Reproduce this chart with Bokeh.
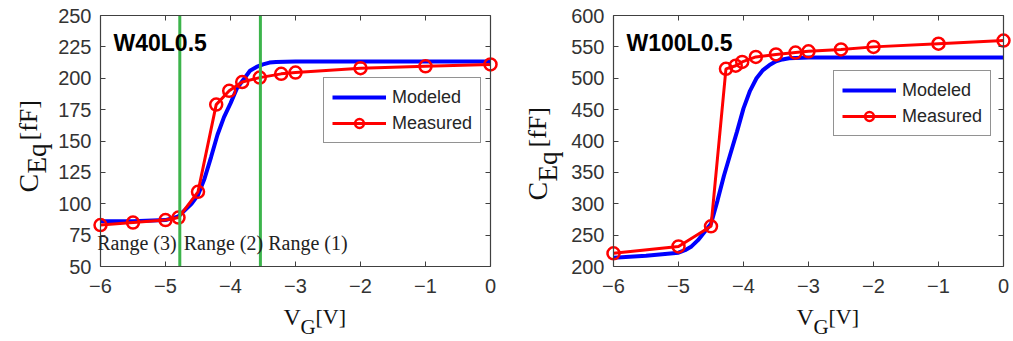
import math
from bokeh.plotting import figure
from bokeh.models import (Range1d, LinearAxis, FixedTicker, Label, Legend, LegendItem)
from bokeh.layouts import row
from bokeh.embed import file_html
from bokeh.resources import INLINE

# ---------------- data ----------------
# Left panel: W40L0.5
l_mod_x = [-6, -5.5, -5, -4.8, -4.6, -4.5, -4.4, -4.3, -4.2, -4.1, -4.0, -3.9, -3.8, -3.7, -3.6, -3.5, -3.4, -3.3, -3.0, -2, -1, 0]
l_mod_y = [86, 86, 87, 90, 100, 107, 120, 137, 155, 169, 180, 192, 199, 206, 209, 211, 212.5, 213, 213.3, 213.3, 213.3, 213.3]
l_meas_x = [-6, -5.5, -5, -4.8, -4.5, -4.22, -4.02, -3.82, -3.55, -3.22, -3.0, -2, -1, 0]
l_meas_y = [83, 85, 87, 89, 109.5, 179, 190, 197, 200.5, 203.5, 204.5, 208, 209.5, 211]
# Right panel: W100L0.5
r_mod_x = [-6, -5.5, -5, -4.9, -4.8, -4.7, -4.6, -4.5, -4.4, -4.3, -4.2, -4.1, -4.0, -3.9, -3.8, -3.7, -3.6, -3.5, -3.4, -3.3, -3.0, -2, -1, 0]
r_mod_y = [214, 217, 222, 226, 232, 242, 255, 268, 305, 345, 380, 415, 452, 480, 500, 513, 521, 527, 530, 532, 533, 533, 533, 533]
r_meas_x = [-6, -5, -4.5, -4.27, -4.12, -4.02, -3.81, -3.5, -3.2, -3.0, -2.5, -2, -1, 0]
r_meas_y = [221, 232, 264, 515, 520, 526, 534, 538, 541, 543, 546, 550, 555, 560]

x_lim = (-6, 0)
l_y_lim = (50, 250)
r_y_lim = (200, 600)
x_ticks = [-6, -5, -4, -3, -2, -1, 0]
l_y_ticks = [50, 75, 100, 125, 150, 175, 200, 225, 250]
r_y_ticks = [200, 250, 300, 350, 400, 450, 500, 550, 600]
range_lines = [-4.78, -3.54]
range_labels = ["Range (3)", "Range (2)", "Range (1)"]
range_label_x = [-6.05, -4.72, -3.42]
titles = ["W40L0.5", "W100L0.5"]
xlabel_parts = ["V", "G", "[V]"]
ylabel_parts = ["C", "Eq", "[fF]"]

SANS = "Liberation Sans"
SERIF = "Liberation Serif"
H = 341      # canvas height
BT = 15      # px from canvas top to the axes box top
FW = 390     # axes box width (px)
FH = 251     # axes box height (px)
AX = "#404040"


def make_panel(width, bl, xl, yl, yticks, mod_x, mod_y, meas_x, meas_y, title,
               legend_xy, ylab_dx, ylab_y):
    # the whole canvas is the frame; the axes box is drawn by fixed-location axes
    sx = (xl[1] - xl[0]) / FW
    sy = (yl[1] - yl[0]) / FH
    x_lo = xl[0] - bl * sx
    x_hi = xl[1] + (width - bl - FW) * sx
    y_hi = yl[1] + BT * sy
    y_lo = yl[0] - (H - BT - FH) * sy

    def tox(px):   # canvas px from left -> data
        return x_lo + px * sx

    def toy(py):   # canvas px from top -> data
        return y_hi - py * sy

    p = figure(width=width, height=H, x_range=Range1d(x_lo, x_hi), y_range=Range1d(y_lo, y_hi),
               output_backend="svg", toolbar_location=None,
               min_border_left=0, min_border_right=0, min_border_top=0, min_border_bottom=0)
    p.background_fill_color = "white"
    p.border_fill_color = "white"
    p.outline_line_color = None
    p.grid.visible = False

    xa, ya = p.xaxis[0], p.yaxis[0]
    xa.fixed_location = yl[0]
    ya.fixed_location = xl[0]
    xa.bounds = xl
    ya.bounds = yl
    xa.ticker = FixedTicker(ticks=x_ticks)
    ya.ticker = FixedTicker(ticks=yticks)
    xa.major_label_standoff = 12
    ya.major_label_standoff = 9
    for ax in (xa, ya):
        ax.major_tick_in = 5
        ax.major_tick_out = 0
        ax.minor_tick_line_color = None
        ax.axis_line_color = AX
        ax.axis_line_width = 1.2
        ax.major_tick_line_color = AX
        ax.major_label_text_font = SANS
        ax.major_label_text_font_size = "20px"
        ax.major_label_text_color = "#333333"

    for side, tk, loc, bnd in (("right", yticks, xl[1], yl), ("above", x_ticks, yl[1], xl)):
        a = LinearAxis(ticker=FixedTicker(ticks=tk), fixed_location=loc, bounds=bnd)
        a.major_tick_in = 5
        a.major_tick_out = 0
        a.minor_tick_line_color = None
        a.major_label_overrides = {t: "" for t in tk}
        a.axis_line_color = AX
        a.axis_line_width = 1.2
        a.major_tick_line_color = AX
        a.major_label_standoff = 0
        p.add_layout(a, side)

    r_mod = p.line(mod_x, mod_y, line_color="#0000ff", line_width=4)
    r_meas_l = p.line(meas_x, meas_y, line_color="#ff0000", line_width=3)
    r_meas_s = p.scatter(meas_x, meas_y, marker="circle", size=12, line_color="#ff0000",
                         line_width=2.5, fill_color=None)

    legend = Legend(items=[LegendItem(label="Modeled", renderers=[r_mod]),
                           LegendItem(label="Measured", renderers=[r_meas_l, r_meas_s])],
                    location=legend_xy)
    legend.glyph_width = 54
    legend.glyph_height = 22
    legend.label_height = 22
    legend.label_standoff = 6
    legend.spacing = 4
    legend.padding = 8
    legend.margin = 0
    legend.border_line_color = "#262626"
    legend.border_line_width = 1
    legend.background_fill_color = "white"
    legend.background_fill_alpha = 1
    legend.label_text_font = SANS
    legend.label_text_font_size = "18px"
    legend.label_text_color = "#262626"
    p.add_layout(legend, "center")

    # panel title inside the box
    p.add_layout(Label(x=tox(bl + 13), y=toy(42), text=title, text_font=SANS, text_font_size="23px",
                       text_font_style="bold", text_color="black", text_baseline="alphabetic"))

    # x label V_G[V]
    kw = dict(text_font=SERIF, text_color="#111111", text_baseline="alphabetic")
    for txt, dx, by, fs in zip(xlabel_parts, (183, 200, 215), (316, 326, 316), ("24px", "21px", "22px")):
        p.add_layout(Label(x=tox(bl + dx), y=toy(by), text=txt, text_font_size=fs, **kw))

    # y label C_Eq[fF], rotated
    for txt, dx, sy0, fs in zip(ylabel_parts, ylab_dx, ylab_y, ("28px", "27px", "26px")):
        p.add_layout(Label(x=tox(bl + dx), y=toy(sy0), text=txt, text_font_size=fs,
                           angle=math.pi / 2, **kw))
    return p, tox, toy


p1, tox1, toy1 = make_panel(505, 100, x_lim, l_y_lim, l_y_ticks, l_mod_x, l_mod_y,
                            l_meas_x, l_meas_y, titles[0], legend_xy=(323, 341 - 143),
                            ylab_dx=(-72, -64, -72), ylab_y=(192, 173, 140))
p1.segment(x0=range_lines, y0=[l_y_lim[0]] * 2, x1=range_lines, y1=[l_y_lim[1]] * 2,
           line_color="#3cb44b", line_width=3)
for lbl, xv in zip(range_labels, range_label_x):
    p1.add_layout(Label(x=xv, y=toy1(242), text=lbl, text_font=SERIF, text_font_size="20px",
                        text_color="#222222", text_baseline="alphabetic"))

p2, tox2, toy2 = make_panel(508, 108, x_lim, r_y_lim, r_y_ticks, r_mod_x, r_mod_y,
                            r_meas_x, r_meas_y, titles[1], legend_xy=(833 - 505, 341 - 136),
                            ylab_dx=(-76, -66, -76), ylab_y=(200, 181, 147))

layout = row(p1, p2)
open("out.html", "w").write(file_html(layout, INLINE))
